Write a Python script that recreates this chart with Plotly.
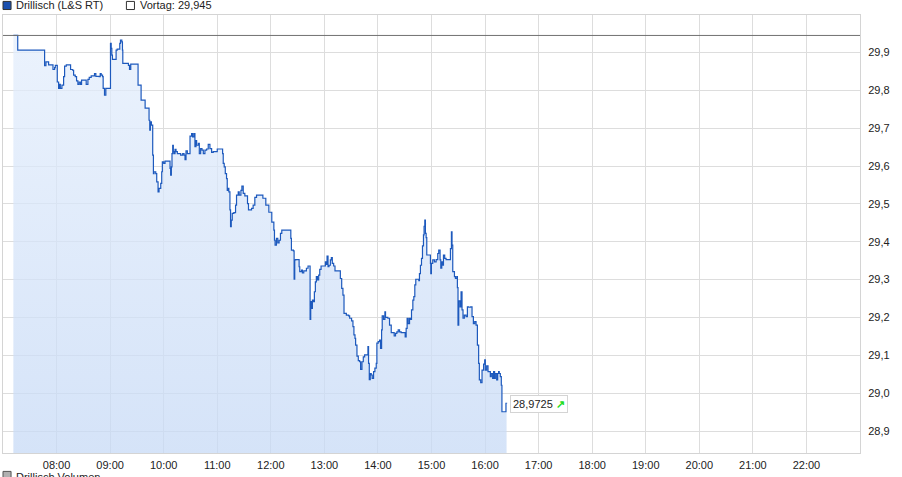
import pandas as pd
import plotly.graph_objects as go

# Drillisch (L&S RT) intraday, time as minutes after midnight
t_min = [431.6, 436.5, 466.6, 468.1, 471.1, 476.0, 477.8, 478.6, 480.8, 482.3,
         483.4, 484.2, 486.0, 487.9, 489.0, 490.9, 495.7, 498.0, 499.1, 500.9,
         502.4, 503.9, 505.4, 506.9, 508.0, 513.2, 515.1, 516.6, 518.8, 522.5,
         524.0, 527.7, 528.9, 530.0, 531.5, 532.2, 533.7, 535.2, 540.4, 541.2,
         541.9, 542.6, 546.7, 547.9, 550.8, 551.6, 553.1, 553.8, 554.2, 560.5,
         561.7, 563.1, 571.3, 574.7, 579.2,
         583.6, 584.4, 585.1, 586.2, 587.7, 588.5, 589.2, 591.1, 592.2, 593.7,
         594.8, 596.7, 597.8, 598.5, 600.0, 601.5, 607.1, 607.8, 608.6, 609.3,
         610.1, 610.8, 611.6, 612.7, 613.8, 615.3, 619.0, 621.3, 622.8, 623.9,
         625.0, 626.5, 629.5, 631.3, 632.4, 633.9, 635.0, 636.2, 636.9, 638.8,
         639.9, 641.4, 642.9, 644.4, 646.2, 648.1, 649.9, 651.8, 653.7, 655.5,
         660.0, 666.0, 666.7, 667.8, 669.0, 670.4, 671.2, 672.3, 673.0, 674.2,
         674.9, 675.7, 676.8, 678.6, 680.5, 681.6, 683.5, 684.6, 686.5, 687.6,
         689.1, 690.9, 693.9, 695.0, 698.4, 700.2, 702.1, 704.0, 711.1, 714.4,
         717.8, 721.1,
         723.4, 724.1, 724.8, 726.3, 727.8, 729.3, 730.8, 732.3, 742.4, 743.1,
         745.3, 746.1, 746.8, 747.9, 751.7, 752.4, 754.3, 755.4, 756.9, 759.9,
         761.7, 764.0, 764.7, 765.4, 766.6, 767.7, 768.8, 769.9, 771.0, 772.2,
         773.6, 774.8, 776.3, 781.1, 782.2, 783.0, 784.1, 785.2, 786.7, 787.8,
         788.9, 790.4, 791.9, 797.9, 799.4, 800.8, 802.0, 804.6, 807.2, 808.3,
         810.5, 812.0, 813.1, 814.3, 815.0, 816.5, 818.0, 819.5, 820.6, 822.1,
         823.6, 825.1, 828.8, 829.5, 830.3, 831.4, 832.5, 833.6, 835.1, 836.6,
         838.1, 838.8, 840.3, 841.8, 842.9, 844.1, 844.8, 846.3, 847.8, 848.5,
         851.1, 853.0,
         854.9, 858.2, 859.7, 861.2, 862.7, 864.2, 866.0, 870.5, 871.6, 872.7,
         873.9, 875.4, 876.5, 877.6, 879.1, 880.2, 881.3, 882.4, 885.8, 886.5,
         887.6, 888.8, 889.9, 891.0, 891.7, 892.5, 893.2, 894.0, 894.7, 898.8,
         899.2, 899.9, 901.4, 903.3, 905.2, 907.0, 908.1, 909.6, 910.4, 911.5,
         912.6, 913.4, 914.8, 916.3, 921.2, 922.3, 923.0, 923.8, 925.7, 926.8,
         928.3, 929.0, 929.7, 930.5, 932.0, 933.1, 934.2, 935.3, 936.8, 938.7,
         940.2, 941.7, 943.9, 945.4, 946.9, 948.4, 949.9, 951.4, 952.8, 953.6,
         955.1, 956.6, 958.4, 959.6, 960.3, 961.8, 963.3, 965.9, 967.0, 968.5,
         969.6, 970.7, 971.5, 973.0, 974.1, 975.2, 975.9, 977.1, 978.2, 978.9,
         983.4, 984.1]
price = [29.945, 29.906, 29.865, 29.875, 29.867, 29.855, 29.860, 29.866, 29.822, 29.805,
         29.816, 29.805, 29.814, 29.836, 29.864, 29.867, 29.855, 29.853, 29.840, 29.836,
         29.825, 29.816, 29.822, 29.816, 29.827, 29.816, 29.829, 29.834, 29.838, 29.844,
         29.837, 29.836, 29.844, 29.840, 29.836, 29.805, 29.787, 29.805, 29.924, 29.911,
         29.893, 29.882, 29.906, 29.909, 29.924, 29.933, 29.928, 29.906, 29.871, 29.866,
         29.855, 29.869, 29.814, 29.774, 29.753,
         29.721, 29.695, 29.717, 29.708, 29.629, 29.580, 29.585, 29.580, 29.558, 29.532,
         29.541, 29.554, 29.585, 29.611, 29.607, 29.613, 29.594, 29.576, 29.598, 29.633,
         29.655, 29.638, 29.633, 29.644, 29.638, 29.633, 29.629, 29.633, 29.629, 29.617,
         29.640, 29.633, 29.679, 29.686, 29.677, 29.686, 29.651, 29.667, 29.655, 29.660,
         29.633, 29.646, 29.642, 29.633, 29.642, 29.645, 29.657, 29.646, 29.636, 29.638,
         29.645, 29.633, 29.607, 29.598, 29.580, 29.567, 29.536, 29.541, 29.532, 29.484,
         29.440, 29.457, 29.475, 29.477, 29.497, 29.523, 29.532, 29.523, 29.536, 29.547,
         29.528, 29.521, 29.501, 29.484, 29.488, 29.497, 29.517, 29.523, 29.515, 29.497,
         29.478, 29.452,
         29.431, 29.404, 29.391, 29.409, 29.397, 29.404, 29.422, 29.431, 29.409, 29.378,
         29.376, 29.301, 29.352, 29.353, 29.334, 29.321, 29.325, 29.318, 29.323, 29.330,
         29.336, 29.195, 29.242, 29.224, 29.246, 29.242, 29.268, 29.294, 29.308, 29.299,
         29.312, 29.327, 29.336, 29.347, 29.340, 29.362, 29.334, 29.338, 29.352, 29.358,
         29.343, 29.336, 29.323, 29.303, 29.277, 29.259, 29.211, 29.206, 29.204, 29.198,
         29.191, 29.176, 29.154, 29.145, 29.127, 29.098, 29.086, 29.083, 29.063, 29.083,
         29.096, 29.101, 29.123, 29.079, 29.036, 29.052, 29.048, 29.039, 29.057, 29.066,
         29.079, 29.132, 29.136, 29.140, 29.118, 29.167, 29.204, 29.195, 29.215, 29.200,
         29.198, 29.180,
         29.160, 29.151, 29.158, 29.162, 29.167, 29.162, 29.160, 29.149, 29.171, 29.198,
         29.184, 29.198, 29.195, 29.220, 29.246, 29.255, 29.286, 29.301, 29.297, 29.316,
         29.338, 29.356, 29.389, 29.418, 29.441, 29.457, 29.422, 29.411, 29.365, 29.343,
         29.316, 29.343, 29.352, 29.347, 29.353, 29.369, 29.378, 29.352, 29.330, 29.347,
         29.338, 29.365, 29.356, 29.353, 29.382, 29.426, 29.391, 29.321, 29.308, 29.303,
         29.308, 29.279, 29.180, 29.244, 29.228, 29.268, 29.220, 29.198, 29.206, 29.202,
         29.228, 29.227, 29.228, 29.202, 29.184, 29.189, 29.180, 29.127, 29.079, 29.035,
         29.028, 29.061, 29.077, 29.088, 29.061, 29.072, 29.057, 29.044, 29.052, 29.039,
         29.057, 29.039, 29.052, 29.035, 29.052, 29.057, 29.052, 29.044, 29.021, 28.951,
         28.973, 28.9725]

vortag = 29.945
last_price = 28.9725
y_ticks = [28.9, 29.0, 29.1, 29.2, 29.3, 29.4, 29.5, 29.6, 29.7, 29.8, 29.9]
x_hours = list(range(8, 23))
x_labels = ["%02d:00" % h for h in x_hours]

day = pd.Timestamp("2013-05-10")
x = day + pd.to_timedelta(t_min, unit="m")
x_start = day + pd.Timedelta(hours=7)
x_end = day + pd.Timedelta(hours=23)
y_lo, y_hi = 28.842, 29.999

fig = go.Figure()
fig.add_trace(go.Scatter(
    x=x, y=price, mode="lines", line=dict(color="#1d59bd", width=1.2, shape="hv"),
    fill="tozeroy",
    fillgradient=dict(type="vertical", start=y_lo, stop=vortag,
                      colorscale=[[0, "rgba(199,218,246,0.75)"], [1, "rgba(228,238,252,0.75)"]]),
    showlegend=False, hoverinfo="skip"))

# Vortag line
fig.add_shape(type="line", xref="paper", yref="y", x0=0, x1=1, y0=vortag, y1=vortag,
              line=dict(color="#707070", width=1))

# legend boxes
fig.add_shape(type="rect", xref="paper", yref="paper", x0=0.0, x1=0.0094, y0=1.0125, y1=1.031,
              fillcolor="#1a4fae", line=dict(color="#333333", width=1))
fig.add_shape(type="rect", xref="paper", yref="paper", x0=0.144, x1=0.1534, y0=1.0125, y1=1.031,
              fillcolor="white", line=dict(color="#333333", width=1))
fig.add_shape(type="rect", xref="paper", yref="paper", x0=0.0, x1=0.0094, y0=-0.06, y1=-0.042,
              fillcolor="#b0b0b0", line=dict(color="#555555", width=1))

font = dict(family="Liberation Sans, Arial, sans-serif", size=11, color="#222222")
fig.add_annotation(xref="paper", yref="paper", x=0.013, y=1.022, text="Drillisch (L&S RT)",
                   showarrow=False, xanchor="left", yanchor="middle", font=font)
fig.add_annotation(xref="paper", yref="paper", x=0.157, y=1.022, text="Vortag: 29,945",
                   showarrow=False, xanchor="left", yanchor="middle", font=font)
fig.add_annotation(xref="paper", yref="paper", x=0.013, y=-0.037, text="Drillisch Volumen",
                   showarrow=False, xanchor="left", yanchor="top", font=font)
fig.add_annotation(x=x[-1], y=last_price, text="28,9725 <span style='color:#22dd22'><b>↗</b></span>",
                   showarrow=False, xanchor="left", yanchor="middle", xshift=3,
                   bgcolor="white", bordercolor="#d4d4d4", borderwidth=1, borderpad=2, font=font)

fig.update_layout(
    width=902, height=477,
    margin=dict(l=3, r=42, t=15, b=24),
    paper_bgcolor="white", plot_bgcolor="white",
    separators=",.",
    font=font,
    showlegend=False,
)
fig.update_xaxes(type="date", range=[x_start, x_end],
                 tickvals=[day + pd.Timedelta(hours=h) for h in x_hours], ticktext=x_labels,
                 showgrid=True, gridcolor="#dddddd", gridwidth=1,
                 showline=True, linecolor="#d4d4d4", mirror=True,
                 ticks="", ticklabelstandoff=2, fixedrange=True)
fig.update_yaxes(range=[y_lo, y_hi], side="right", tickvals=y_ticks, tickformat=".1f",
                 showgrid=True, gridcolor="#dddddd", gridwidth=1, zeroline=False,
                 showline=True, linecolor="#d4d4d4", mirror=True,
                 ticks="", ticklabelstandoff=5, fixedrange=True)

# page default body margin would shift the chart by 8px
fig.write_html("out.html", config={"displayModeBar": False},
               post_script="document.body.style.margin='0px';")
